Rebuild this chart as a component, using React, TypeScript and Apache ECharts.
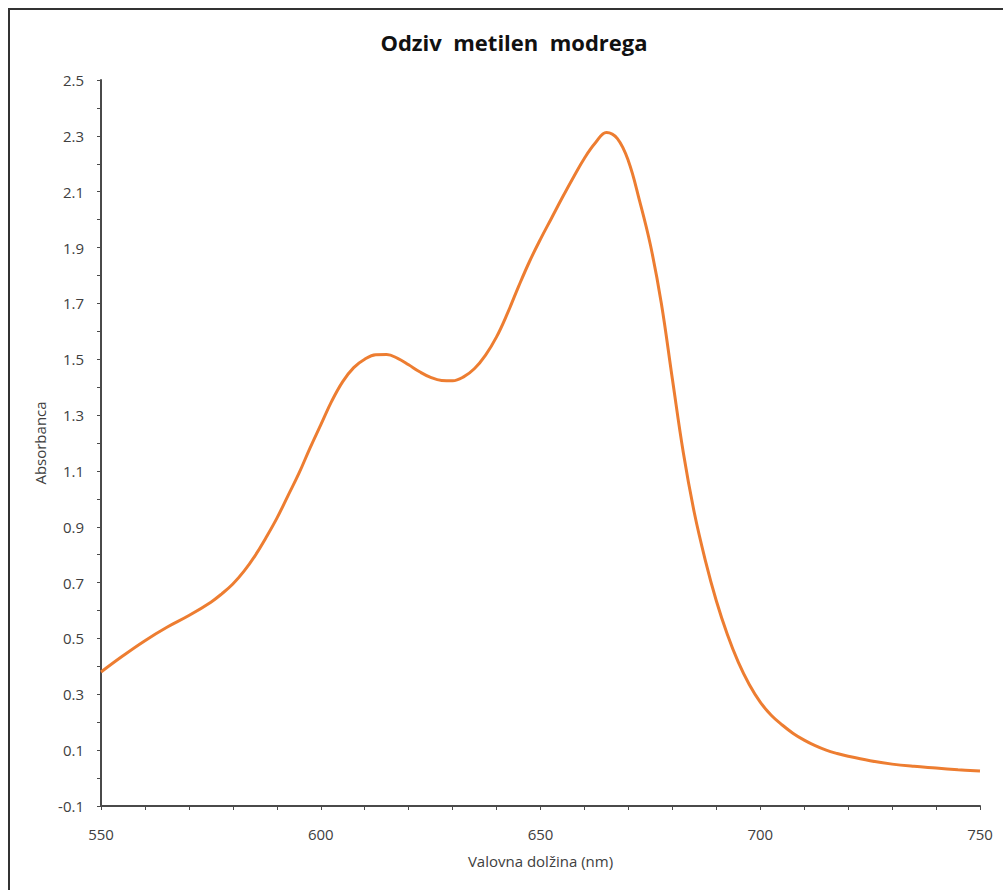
import React, { useEffect, useRef } from "react";
import * as echarts from "echarts";

const wavelengths = [
  550, 555, 560, 565, 570, 575, 577.5, 580, 582.5, 585, 587.5, 590, 592.5, 595, 597.5, 600, 602.5, 605,
  607.5, 610, 612.5, 615, 617.5, 620, 622.5, 625, 627.5, 630, 632.5, 635, 637.5, 640, 642.5, 645, 647.5,
  650, 652.5, 655, 657.5, 660, 662.5, 665, 667.5, 670, 672.5, 675, 677.5, 680, 682.5, 685, 687.5, 690,
  692.5, 695, 697.5, 700, 702.5, 705, 707.5, 710, 712.5, 715, 717.5, 720, 725, 730, 735, 740, 745, 750,
];
const absorbance = [
  0.38, 0.438, 0.492, 0.54, 0.582, 0.63, 0.66, 0.695, 0.74, 0.795, 0.86, 0.93, 1.01, 1.09, 1.18, 1.265,
  1.35, 1.42, 1.47, 1.5, 1.516, 1.517, 1.503, 1.48, 1.455, 1.435, 1.424, 1.423, 1.437, 1.467, 1.515,
  1.58, 1.665, 1.76, 1.85, 1.93, 2.005, 2.08, 2.152, 2.22, 2.275, 2.312, 2.29, 2.21, 2.07, 1.91, 1.7,
  1.43, 1.165, 0.95, 0.78, 0.635, 0.515, 0.415, 0.335, 0.272, 0.225, 0.19, 0.16, 0.136, 0.116, 0.1,
  0.088, 0.078, 0.062, 0.05, 0.042, 0.036, 0.03, 0.025,
];

const titleText = "Odziv  metilen  modrega";
const xName = "Valovna dolžina (nm)";
const yName = "Absorbanca";

export default function App() {
  const ref = useRef<HTMLDivElement>(null);
  useEffect(() => {
    if (!ref.current) return;
    const chart = echarts.init(ref.current, null, { renderer: "svg" });
    const font = "'Open Sans', 'Noto Sans', sans-serif";
    chart.setOption({
      animation: false,
      backgroundColor: "#ffffff",
      title: {
        text: titleText,
        left: 509,
        textAlign: "center",
        top: 26,
        textStyle: { fontFamily: font, fontSize: 22, fontWeight: "bold", color: "#111" },
      },
      graphic: [
        {
          type: "rect",
          shape: { x: 9, y: 9, width: 1100, height: 1000 },
          style: { fill: "none", stroke: "#333", lineWidth: 2 },
          silent: true,
        },
      ],
      grid: { left: 101, top: 80, right: 23, bottom: 84 },
      xAxis: {
        type: "value",
        min: 550,
        max: 750,
        interval: 50,
        name: xName,
        nameLocation: "middle",
        nameGap: 47,
        nameTextStyle: { fontFamily: font, fontSize: 15, color: "#404040" },
        axisLine: { show: true, onZero: false, lineStyle: { color: "#4a4a4a", width: 2 } },
        axisTick: { show: true, length: 4, lineStyle: { color: "#4a4a4a", width: 1 } },
        minorTick: { show: true, splitNumber: 5, length: 4, lineStyle: { color: "#4a4a4a", width: 1 } },
        axisLabel: { fontFamily: font, fontSize: 15, color: "#404040", margin: 20 },
        splitLine: { show: false },
      },
      yAxis: {
        type: "value",
        min: -0.1,
        max: 2.5,
        interval: 0.2,
        name: yName,
        nameLocation: "middle",
        nameGap: 53,
        nameTextStyle: { fontFamily: font, fontSize: 15, color: "#404040" },
        axisLine: { show: true, onZero: false, lineStyle: { color: "#4a4a4a", width: 2 } },
        axisTick: { show: true, length: 4, lineStyle: { color: "#4a4a4a", width: 1 } },
        minorTick: { show: true, splitNumber: 2, length: 4, lineStyle: { color: "#4a4a4a", width: 1 } },
        axisLabel: {
          fontFamily: font,
          fontSize: 15,
          color: "#404040",
          margin: 17,
          formatter: (v: number) => v.toFixed(1),
        },
        splitLine: { show: false },
      },
      series: [
        {
          type: "line",
          data: wavelengths.map((w, i) => [w, absorbance[i]]),
          smooth: 0.4,
          showSymbol: false,
          lineStyle: { color: "#ED7D31", width: 3 },
          itemStyle: { color: "#ED7D31" },
        },
      ],
    });
    return () => chart.dispose();
  }, []);
  return (
    <div
      ref={ref}
      style={{ position: "fixed", left: 0, top: 0, width: 1003, height: 890 }}
    />
  );
}
